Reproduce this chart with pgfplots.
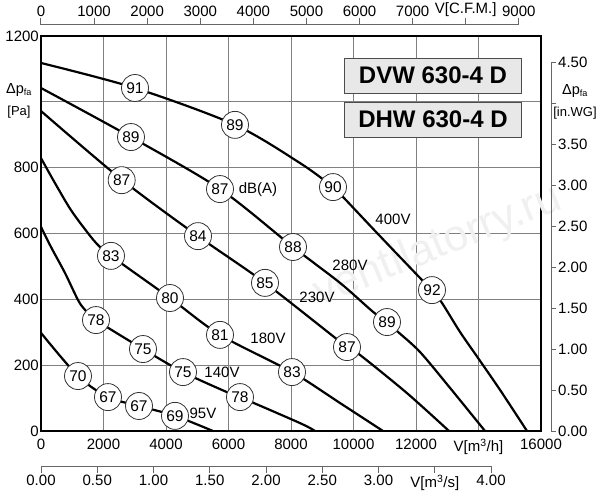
\documentclass[border=0pt]{standalone}
\usepackage{fontspec}
\setmainfont{Liberation Sans}
\usepackage{pgfplots}
\pgfplotsset{compat=1.18}
\begin{document}
\begin{tikzpicture}[font=\fontsize{15bp}{18bp}\selectfont]
\useasboundingbox (-41bp,-69bp) rectangle (559bp,431bp);
\begin{axis}[
 at={(0,0)}, anchor=south west,
 scale only axis, width=500bp, height=395bp,
 xmin=0,xmax=16000,ymin=0,ymax=1200,
 scaled x ticks=false, scaled y ticks=false,
 xtick={0,2000,4000,6000,8000,10000,12000,14000,16000},
 xticklabels={0,2000,4000,6000,8000,10000,12000,{V[m\textsuperscript{3}/h]},16000},
 ytick={0,200,400,600,800,1000,1200},
 yticklabels={0,200,400,600,800,{},1200},
 grid=major,
 major grid style={black!50, line width=0.9bp},
 major tick length=0pt,
 axis line style={line width=2.5bp},
 xticklabel style={inner sep=3bp, yshift=-5bp},
 yticklabel style={inner sep=2bp},
 clip=false,
]
% watermark
\node[rotate=22, text=black!6, font=\fontsize{44bp}{50bp}\selectfont] at (axis cs:12700,560) {ventilatorry.ru};
% 400V
\addplot[line width=2.2bp, smooth] coordinates {
(0,1118) (3008,1042) (6208,930) (8288,814) (9344,741) (9664,711) (10848,592) (12128,465) (12512,428) (12832,389) (13408,301) (13984,222) (14688,125) (15552,0)};
% 280V
\addplot[line width=2.2bp, smooth] coordinates {
(0,1042) (2880,893) (5728,735) (8064,559) (9568,450) (10624,362) (11072,331) (11424,301) (12128,240) (13088,131) (14208,0)};
% 230V
\addplot[line width=2.2bp, smooth] coordinates {
(0,972) (2592,763) (5024,592) (7168,450) (9792,255) (10208,231) (11712,115) (13056,0)};
% 180V
\addplot[line width=2.2bp, smooth] coordinates {
(0,829) (448,753) (960,671) (1504,601) (1824,565) (2240,532) (4128,404) (5728,292) (8032,179) (9568,85) (10944,0)};
% 140V
\addplot[line width=2.2bp, smooth] coordinates {
(0,620) (320,559) (768,480) (1184,398) (1408,368) (1760,337) (3264,249) (4544,179) (5952,118) (6368,103) (8288,24) (8768,0)};
% 95V
\addplot[line width=2.2bp, smooth] coordinates {
(0,298) (1184,167) (2144,103) (3136,76) (4288,46) (5504,0)};
% sound level markers
\addplot[only marks, mark=*, mark size=13.5bp,
 mark options={fill=white, draw=black!80, line width=0.8bp},
 nodes near coords, point meta=explicit symbolic,
 nodes near coords style={anchor=center, inner sep=0pt, font=\fontsize{15.5bp}{18bp}\selectfont}]
 table[meta=l] {
x y l
3008 1042 91
6208 930 89
9344 741 90
12512 428 92
2880 893 89
5728 735 87
8064 559 88
11072 331 89
2582 762 87
5024 592 84
7168 450 85
9792 255 87
2240 532 83
4128 404 80
5728 292 81
8032 179 83
1760 337 78
3264 249 75
4544 179 75
6368 103 78
1184 167 70
2144 103 67
3136 76 67
4288 46 69
};
\node at (axis cs:6944,732) {dB(A)};
\node at (axis cs:11264,644) {400V};
\node at (axis cs:9888,504) {280V};
\node at (axis cs:8832,407) {230V};
\node at (axis cs:7264,283) {180V};
\node at (axis cs:5792,179) {140V};
\node at (axis cs:5184,55) {95V};
\node[align=center, font=\fontsize{13bp}{22bp}\selectfont] at (axis cs:-704,1003) {{\fontsize{14.5bp}{22bp}\selectfont Δp}\textsubscript{fa}\\{[}Pa{]}};
\node[align=center, font=\fontsize{13bp}{22bp}\selectfont] at (axis cs:17088,1000) {{\fontsize{14.5bp}{22bp}\selectfont Δp}\textsubscript{fa}\\{[}in.WG{]}};
\node[draw=black!70, fill=black!9, line width=0.9bp, minimum width=177bp, minimum height=35bp, inner sep=0pt, font=\fontsize{24bp}{28bp}\selectfont\bfseries] at (axis cs:12544,1080) {DVW 630-4 D};
\node[draw=black!70, fill=black!9, line width=0.9bp, minimum width=177bp, minimum height=35bp, inner sep=0pt, font=\fontsize{24bp}{28bp}\selectfont\bfseries] at (axis cs:12544,946) {DHW 630-4 D};
\end{axis}
% top axis: CFM
\begin{axis}[
 at={(0,406bp)}, anchor=north west,
 scale only axis, width=477.8bp, height=10bp,
 xmin=0,xmax=9000,ymin=0,ymax=1,
 scaled x ticks=false,
 axis x line*=top, axis y line=none,
 xtick pos=top,
 tick align=outside, major tick length=7bp,
 axis line style={black!60, line width=1bp},
 tick style={black!60, line width=1bp},
 xtick={0,1000,2000,3000,4000,5000,6000,7000,8000,9000},
 xticklabels={0,1000,2000,3000,4000,5000,6000,7000,{V[C.F.M.]},9000},
 xticklabel style={inner sep=1bp},
]
\addplot[draw=none] coordinates {(0,0)};
\end{axis}
% right axis: in.WG
\begin{axis}[
 at={(510bp,0)}, anchor=south east,
 scale only axis, width=10bp, height=368.96bp,
 xmin=0,xmax=1,ymin=0,ymax=4.5,
 axis y line*=right, axis x line=none,
 ytick pos=right,
 tick align=outside, major tick length=5bp,
 axis line style={black!60, line width=1bp},
 tick style={black!60, line width=1bp},
 ytick={0,0.5,1,1.5,2,2.5,3,3.5,4,4.5},
 yticklabels={0.00,0.50,1.00,1.50,2.00,2.50,3.00,3.50,{},4.50},
 yticklabel style={inner sep=2bp},
]
\addplot[draw=none] coordinates {(0,0)};
\end{axis}
% bottom axis: m3/s
\begin{axis}[
 at={(0,-35bp)}, anchor=south west,
 scale only axis, width=450bp, height=10bp,
 xmin=0,xmax=4,ymin=0,ymax=1,
 axis x line*=bottom, axis y line=none,
 xtick pos=bottom,
 tick align=outside, major tick length=7bp,
 axis line style={black!60, line width=1bp},
 tick style={black!60, line width=1bp},
 xtick={0,0.5,1,1.5,2,2.5,3,3.5,4},
 xticklabels={0.00,0.50,1.00,1.50,2.00,2.50,3.00,{V[m\textsuperscript{3}/s]},4.00},
 xticklabel style={inner sep=2bp},
]
\addplot[draw=none] coordinates {(0,0)};
\end{axis}
\end{tikzpicture}
\end{document}
